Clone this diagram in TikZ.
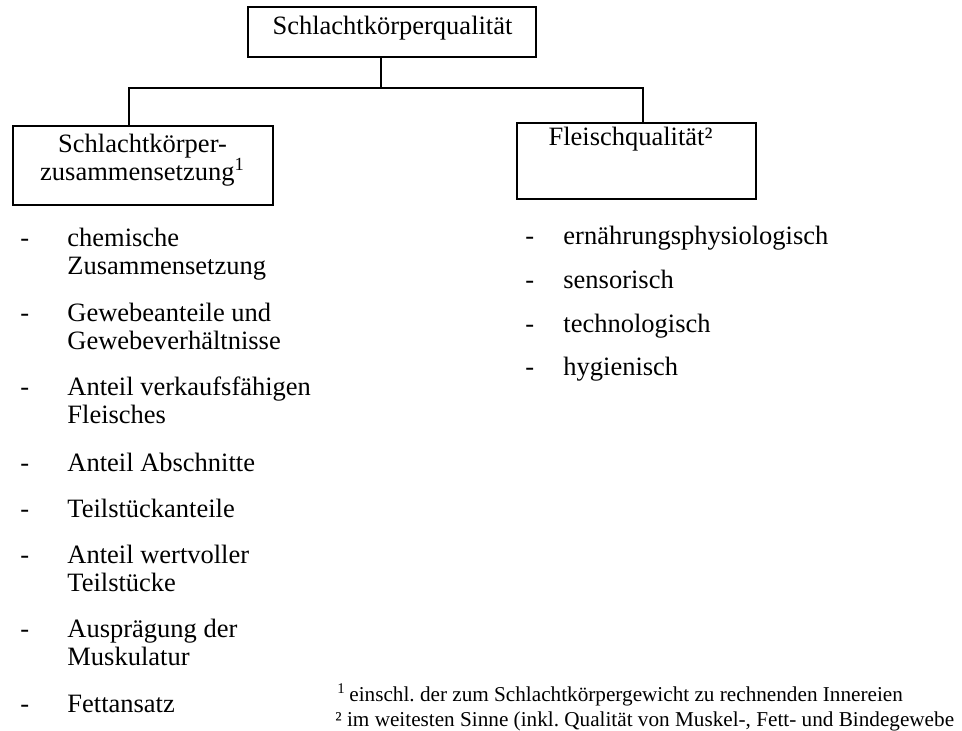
\documentclass[tikz,border=0pt]{standalone}
\usepackage{fontspec}
\setmainfont{Liberation Serif}
\frenchspacing
\begin{document}
\begin{tikzpicture}[x=0.5pt,y=-0.5pt,
  box/.style={draw, line width=1pt, inner sep=0pt},
  conn/.style={line width=1pt},
  txt/.style={inner sep=0pt, font=\fontsize{13.25}{15}\selectfont},
  foot/.style={inner sep=0pt, font=\fontsize{10.6}{12}\selectfont}]
\useasboundingbox (0,0) rectangle (962,731);

% boxes
\node[box, minimum width=144pt, minimum height=25pt] (top) at (392,32) {};
\node[box, minimum width=130pt, minimum height=39.5pt] (left) at (143,165.5) {};
\node[box, minimum width=119.5pt, minimum height=38pt] (right) at (636.5,161) {};

% box texts
\node[txt, anchor=base] (topt) at (392.5,35) {Schlachtkörperqualität};
\node[txt, anchor=base] (lt1) at (142.5,153) {Schlachtkörper-};
\node[txt, anchor=base] (lt2) at (142.5,181) {zusammensetzung\textsuperscript{1}};
\node[txt, anchor=base] (rt) at (630.5,146) {Fleischqualität²};

% connectors
\coordinate (j) at (381,88);
\coordinate (lj) at (129,88);
\coordinate (rj) at (643,88);
\draw[conn] (top.south -| j) -- (j);
\draw[conn] (left.north -| lj) -- (lj) -- (rj) -- (right.north -| rj);

% left list
\foreach \n/\y in {a/247, b/322, c/395, d/471, e/517, f/563, g/637, h/712}
  \node[txt, anchor=base west] (ld\n) at (20,\y) {-};
\node[txt, anchor=base west] (la1) at (67,247) {chemische};
\node[txt, anchor=base west] (la2) at (67,275) {Zusammensetzung};
\node[txt, anchor=base west] (lb1) at (67,322) {Gewebeanteile und};
\node[txt, anchor=base west] (lb2) at (67,350) {Gewebeverhältnisse};
\node[txt, anchor=base west] (lc1) at (67,395) {Anteil verkaufsfähigen};
\node[txt, anchor=base west] (lc2) at (67,423) {Fleisches};
\node[txt, anchor=base west] (ld1) at (67,471) {Anteil Abschnitte};
\node[txt, anchor=base west] (le1) at (67,517) {Teilstückanteile};
\node[txt, anchor=base west] (lf1) at (67,563) {Anteil wertvoller};
\node[txt, anchor=base west] (lf2) at (67,591) {Teilstücke};
\node[txt, anchor=base west] (lg1) at (67,637) {Ausprägung der};
\node[txt, anchor=base west] (lg2) at (67,665) {Muskulatur};
\node[txt, anchor=base west] (lh1) at (67,712) {Fettansatz};

% right list
\foreach \n/\y in {a/245, b/289, c/333, d/376}
  \node[txt, anchor=base west] (rd\n) at (525,\y) {-};
\node[txt, anchor=base west] (ra) at (563,245) {ernährungsphysiologisch};
\node[txt, anchor=base west] (rb) at (563,289) {sensorisch};
\node[txt, anchor=base west] (rc) at (563,333) {technologisch};
\node[txt, anchor=base west] (rdd) at (563,376) {hygienisch};

% footnotes
\node[foot, anchor=base west] (f1) at (337,701) {\textsuperscript{1}\,einschl. der zum Schlachtkörpergewicht zu rechnenden Innereien};
\node[foot, anchor=base west] (f2) at (335,726) {² im weitesten Sinne (inkl. Qualität von Muskel-, Fett- und Bindegewebe};
\end{tikzpicture}
\end{document}
